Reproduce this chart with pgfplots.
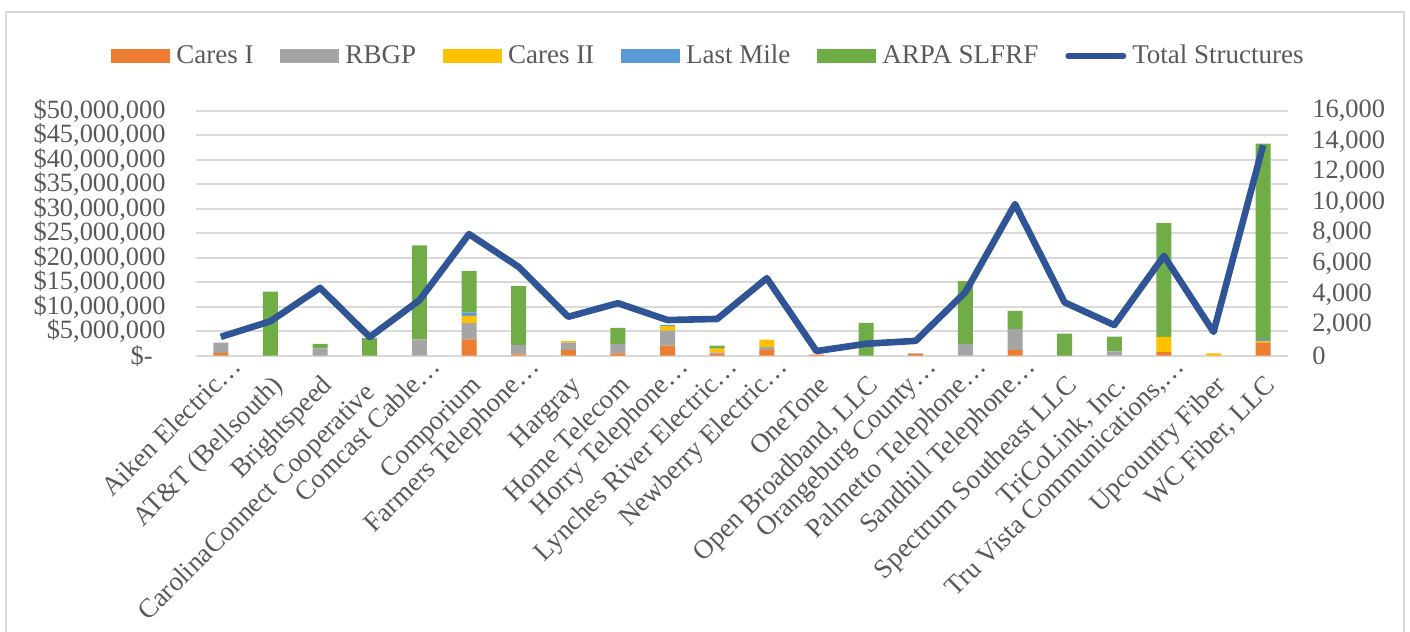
\documentclass[border=0pt]{standalone}
\usepackage{fontspec}
\setmainfont{Liberation Serif}
\usepackage{pgfplots}
\usepackage{pgfplotstable}
\pgfplotsset{compat=1.18}
\definecolor{cA}{HTML}{ED7D31}
\definecolor{cB}{HTML}{A5A5A5}
\definecolor{cC}{HTML}{FFC000}
\definecolor{cD}{HTML}{5B9BD5}
\definecolor{cE}{HTML}{70AD47}
\definecolor{cL}{HTML}{2F5597}
\definecolor{txt}{HTML}{595959}
\definecolor{grd}{HTML}{D9D9D9}
\pgfplotsset{
  mybar/.style={fill=#1, draw=none,
    legend image code/.code={\fill[##1] (0pt,-3.5pt) rectangle (29.5pt,3.5pt);}},
  linelegend/.style={legend image code/.code={\draw[##1, line cap=round] (1.5pt,0pt) -- (29pt,0pt);}}
}
\newcommand{\lfont}{\fontsize{13.5}{15}\selectfont}
\newcommand{\yfont}{\fontsize{13.2}{15}\selectfont}
\newcommand{\tr}[1]{\raisebox{3.7pt}{#1}\hspace*{-9.7pt}}

\pgfplotstableread{
x caresI rbgp caresII lastmile arpa total
0 550000 2100000 0 0 0 1230
1 0 0 0 0 13100000 2250
2 0 1500000 0 0 900000 4430
3 0 0 0 0 3600000 1220
4 0 3350000 0 0 19150000 3620
5 3350000 3300000 1500000 650000 8500000 7940
6 250000 1900000 0 0 12050000 5800
7 1200000 1450000 350000 0 0 2540
8 450000 1900000 0 0 3350000 3430
9 2050000 3050000 950000 250000 0 2330
10 500000 200000 750000 0 600000 2400
11 1200000 550000 1550000 0 0 5060
12 200000 0 0 0 0 300
13 0 0 0 0 6700000 780
14 350000 150000 0 0 0 970
15 0 2400000 0 0 12800000 4150
16 1200000 4250000 0 0 3700000 9900
17 0 0 0 0 4500000 3480
18 0 900000 0 0 3000000 2000
19 750000 0 3100000 0 23250000 6520
20 0 0 500000 0 0 1550
21 2700000 0 350000 350000 39900000 13750
}\data

\begin{document}
\begin{tikzpicture}[x=1pt,y=1pt]
\useasboundingbox (0,0) rectangle (705,316);
\draw[grd, line width=0.9pt] (3,-3) -- (3,310) -- (702,310) -- (702,-3);
\begin{axis}[
  at={(98pt,138.15pt)}, anchor=south west,
  scale only axis, width=546pt, height=122.5pt,
  ybar stacked, bar width=7.5pt,
  xmin=-0.5, xmax=21.5, ymin=0, ymax=50000000,
  axis x line*=bottom, axis y line*=left,
  x axis line style={-, grd, line width=0.9pt},
  y axis line style={draw=none},
  major tick length=0pt,
  ymajorgrids, grid style={grd, line width=0.8pt},
  scaled y ticks=false,
  ytick={0,5000000,10000000,15000000,20000000,25000000,30000000,35000000,40000000,45000000,50000000},
  yticklabels={{\$-\hspace*{6.5pt}},{\$5,000,000},{\$10,000,000},{\$15,000,000},{\$20,000,000},{\$25,000,000},{\$30,000,000},{\$35,000,000},{\$40,000,000},{\$45,000,000},{\$50,000,000}},
  yticklabel style={anchor=east, inner sep=0pt, xshift=-15pt, font=\yfont, text=txt},
  xtick={0,...,21},
  xticklabels={{\tr{Aiken Electric…}},{AT\&T (Bellsouth)},{Brightspeed},{CarolinaConnect Cooperative\hspace*{5pt}},{\tr{Comcast Cable…}},{Comporium},{\tr{Farmers Telephone…}},{Hargray},{Home Telecom},{\tr{Horry Telephone…}},{\tr{Lynches River Electric…}},{\tr{Newberry Electric…}},{OneTone},{Open Broadband, LLC},{\tr{Orangeburg County…}},{\tr{Palmetto Telephone…}},{\tr{Sandhill Telephone…}},{Spectrum Southeast LLC},{TriCoLink, Inc.},{\tr{Tru Vista Communications,…}},{Upcountry Fiber},{WC Fiber, LLC}},
  xticklabel style={inner sep=0pt, xshift=6.8pt, yshift=-15.5pt, rotate=45, anchor=base east, font=\lfont, text=txt},
  legend style={draw=none, fill=none, at={(0.4702,1.2233)}, anchor=center,
    font=\lfont, text=txt, legend columns=6,
    /tikz/every even column/.append style={column sep=11.5pt},
    /tikz/every odd column/.append style={column sep=1pt}},
]
\addplot[mybar=cA] table[x=x,y=caresI]{\data};
\addplot[mybar=cB] table[x=x,y=rbgp]{\data};
\addplot[mybar=cC] table[x=x,y=caresII]{\data};
\addplot[mybar=cD] table[x=x,y=lastmile]{\data};
\addplot[mybar=cE] table[x=x,y=arpa]{\data};
\addlegendimage{cL, line width=3pt, linelegend}
\legend{Cares I, RBGP, Cares II, Last Mile, ARPA SLFRF, Total Structures}
\end{axis}
\begin{axis}[
  at={(98pt,138.15pt)}, anchor=south west,
  scale only axis, width=546pt, height=122.5pt,
  xmin=-0.5, xmax=21.5, ymin=0, ymax=16000,
  axis x line=none, axis y line*=right,
  y axis line style={draw=none},
  major tick length=0pt,
  scaled y ticks=false,
  ytick={0,2000,4000,6000,8000,10000,12000,14000,16000},
  yticklabels={{0},{2,000},{4,000},{6,000},{8,000},{10,000},{12,000},{14,000},{16,000}},
  yticklabel style={anchor=west, inner sep=0pt, xshift=12pt, font=\yfont, text=txt},
]
\addplot[cL, line width=3.3pt, line join=round, mark=none] table[x=x,y=total]{\data};
\end{axis}
\end{tikzpicture}
\end{document}
